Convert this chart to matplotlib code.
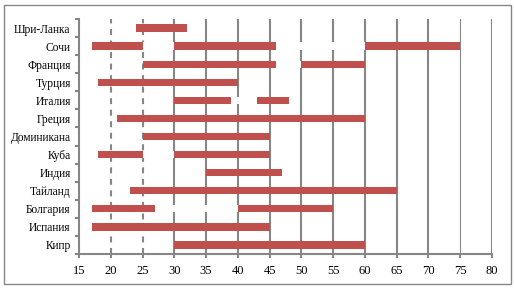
import matplotlib
matplotlib.use("Agg")
import matplotlib.pyplot as plt
import numpy as np

# countries, top to bottom
countries = ["Шри-Ланка", "Сочи", "Франция", "Турция", "Италия", "Греция",
             "Доминикана", "Куба", "Индия", "Тайланд", "Болгария", "Испания", "Кипр"]

# (start, end) segments for each country
segments = [
    [(24, 32)],
    [(17, 25), (30, 46), (60, 75)],
    [(25, 46), (50, 60)],
    [(18, 40)],
    [(30, 39), (43, 48)],
    [(21, 60)],
    [(25, 45)],
    [(18, 25), (30, 45)],
    [(35, 47)],
    [(23, 65)],
    [(17, 27), (40, 55)],
    [(17, 45)],
    [(30, 60)],
]

xticks = list(range(15, 81, 5))

plt.rcParams["lines.scale_dashes"] = False
bar_color = "#C0504D"
grid_color = "#868686"

fig = plt.figure(figsize=(5.14, 2.89), dpi=100)
# outer chart border
fig.patches.append(plt.Rectangle((4 / 514, 5 / 289), 507 / 514, 279 / 289,
                                 transform=fig.transFigure, fill=False,
                                 edgecolor=grid_color, linewidth=1.0))
ax = fig.add_axes([79 / 514, 1 - 254 / 289, 413 / 514, 235 / 289])

n = len(countries)
ypos = np.arange(n)[::-1]

# vertical grid lines
for x in xticks[1:]:
    if x in (20, 25):
        ln = ax.axvline(x, color=grid_color, linewidth=1.5, zorder=1)
        ln.set_dashes((4.3, 4.0))
    elif x == 75:
        ax.axvline(x, color=grid_color, linewidth=0.8, zorder=1)
    else:
        ax.axvline(x, color=grid_color, linewidth=1.5, zorder=1)

for y, segs in zip(ypos, segments):
    for a, b in segs:
        ax.barh(y, b - a, left=a, height=0.4, color=bar_color, zorder=3)
    # gaps between segments are white-filled
    for (a0, b0), (a1, b1) in zip(segs[:-1], segs[1:]):
        ax.barh(y, a1 - b0, left=b0, height=0.4, color="white", zorder=2)

ax.set_xlim(15, 80)
ax.set_ylim(-0.5, n - 0.5)
ax.set_xticks(xticks)
ax.set_yticks(ypos)
ax.set_yticklabels(countries)
ax.set_yticks(np.arange(n + 1) - 0.5, minor=True)

for s in ["top", "right"]:
    ax.spines[s].set_visible(False)
for s in ["left", "bottom"]:
    ax.spines[s].set_color(grid_color)
    ax.spines[s].set_linewidth(1.5)

ax.tick_params(axis="y", which="major", length=0, pad=6)
ax.tick_params(axis="y", which="minor", length=3, width=1.5, color=grid_color)
ax.tick_params(axis="x", length=3, width=1.5, color=grid_color, pad=5)

for lab in ax.get_yticklabels():
    lab.set_fontfamily("Liberation Serif")
    lab.set_fontsize(8.3)
for lab in ax.get_xticklabels():
    lab.set_fontfamily("Liberation Serif")
    lab.set_fontsize(9)

fig.savefig("out.png", dpi=100)
